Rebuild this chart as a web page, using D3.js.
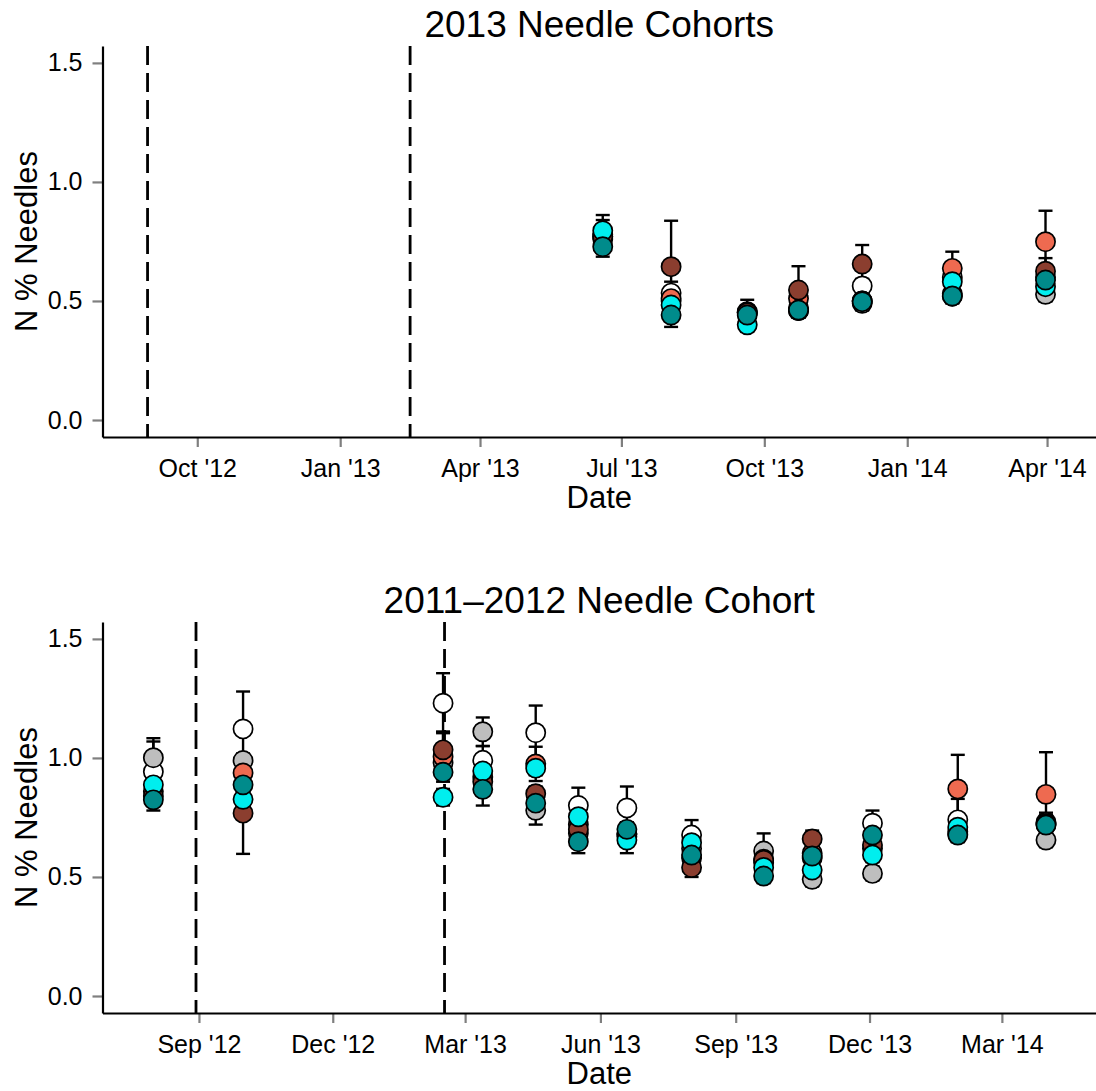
<!DOCTYPE html>
<html>
<head>
<meta charset="utf-8">
<script src="https://cdn.jsdelivr.net/npm/d3@7"></script>
<style>
body { margin: 0; background: #fff; }
svg text { font-family: "Liberation Sans", Arial, sans-serif; fill: #000; }
</style>
</head>
<body>
<div id="chart"></div>
<script>
// treatments, drawn in this order (later ones sit on top)
var treatments = ["T1", "T2", "T3", "T4", "T5", "T6"];
var fills = ["#ffffff", "#bebebe", "#ee6a50", "#8b3e2f", "#00eeee", "#008b8b"];

var yTicks = [0, 0.5, 1.0, 1.5];
var cutDates = ["2012-08-30", "2013-02-15"];

// ---- 2013 cohort ----
var topDates = ["2013-06-19", "2013-08-02", "2013-09-20", "2013-10-23", "2013-12-03", "2014-01-30", "2014-03-31"];
var topT1 = [0.78, 0.533, 0.455, 0.47, 0.563, 0.60, 0.60];
var topT2 = [0.76, 0.50, 0.45, 0.46, 0.49, 0.52, 0.528];
var topT3 = [0.77, 0.51, 0.45, 0.51, 0.50, 0.637, 0.749];
var topT4 = [0.77, 0.644, 0.45, 0.546, 0.655, 0.53, 0.625];
var topT5 = [0.795, 0.483, 0.40, 0.46, 0.50, 0.581, 0.56];
var topT6 = [0.728, 0.441, 0.441, 0.462, 0.497, 0.521, 0.588];
var topSe1 = [0.06, 0.048, 0.05, 0.03, 0.03, 0.03, 0.03];
var topSe2 = [0.03, 0.03, 0.03, 0.03, 0.03, 0.03, 0.03];
var topSe3 = [0.03, 0.03, 0.03, 0.03, 0.03, 0.07, 0.13];
var topSe4 = [0.03, 0.193, 0.03, 0.10, 0.08, 0.03, 0.055];
var topSe5 = [0.066, 0.03, 0.03, 0.03, 0.03, 0.03, 0.03];
var topSe6 = [0.042, 0.05, 0.03, 0.03, 0.03, 0.03, 0.03];
var topTickDates = ["2012-10-01", "2013-01-01", "2013-04-01", "2013-07-01", "2013-10-01", "2014-01-01", "2014-04-01"];
var topTickLabels = ["Oct '12", "Jan '13", "Apr '13", "Jul '13", "Oct '13", "Jan '14", "Apr '14"];

// ---- 2011-2012 cohort ----
var botDates = ["2012-08-01", "2012-10-01", "2013-02-14", "2013-03-13", "2013-04-18", "2013-05-17", "2013-06-19",
  "2013-08-02", "2013-09-20", "2013-10-23", "2013-12-03", "2014-01-30", "2014-03-31"];
var botT1 = [0.942, 1.122, 1.23, 0.99, 1.106, 0.80, 0.79, 0.676, 0.56, 0.58, 0.726, 0.74, 0.73];
var botT2 = [1.001, 0.989, 0.98, 1.11, 0.78, 0.684, 0.68, 0.62, 0.609, 0.49, 0.515, 0.68, 0.655];
var botT3 = [0.86, 0.937, 1.005, 0.92, 0.975, 0.72, 0.67, 0.58, 0.575, 0.60, 0.62, 0.87, 0.847];
var botT4 = [0.84, 0.768, 1.034, 0.90, 0.85, 0.70, 0.68, 0.54, 0.57, 0.66, 0.634, 0.69, 0.725];
var botT5 = [0.887, 0.826, 0.835, 0.945, 0.957, 0.753, 0.655, 0.644, 0.54, 0.529, 0.592, 0.709, 0.72];
var botT6 = [0.824, 0.887, 0.94, 0.868, 0.81, 0.648, 0.70, 0.592, 0.504, 0.588, 0.676, 0.676, 0.718];
var botSe1 = [0.127, 0.157, 0.126, 0.06, 0.114, 0.075, 0.09, 0.063, 0.03, 0.03, 0.053, 0.088, 0.03];
var botSe2 = [0.082, 0.03, 0.03, 0.06, 0.06, 0.03, 0.03, 0.03, 0.074, 0.03, 0.03, 0.03, 0.03];
var botSe3 = [0.03, 0.03, 0.105, 0.03, 0.072, 0.03, 0.03, 0.03, 0.03, 0.03, 0.03, 0.143, 0.177];
var botSe4 = [0.03, 0.171, 0.076, 0.03, 0.03, 0.03, 0.03, 0.04, 0.03, 0.035, 0.03, 0.03, 0.045];
var botSe5 = [0.03, 0.03, 0.035, 0.03, 0.03, 0.03, 0.055, 0.03, 0.03, 0.03, 0.03, 0.03, 0.03];
var botSe6 = [0.045, 0.03, 0.03, 0.068, 0.03, 0.048, 0.03, 0.03, 0.03, 0.03, 0.03, 0.03, 0.03];
var botTickDates = ["2012-09-01", "2012-12-01", "2013-03-01", "2013-06-01", "2013-09-01", "2013-12-01", "2014-03-01"];
var botTickLabels = ["Sep '12", "Dec '12", "Mar '13", "Jun '13", "Sep '13", "Dec '13", "Mar '14"];

var svgWidth = 1096;
var svgHeight = 1091;
var parse = d3.utcParse("%Y-%m-%d");

var svg = d3.select("#chart")
  .append("svg")
  .attr("width", svgWidth)
  .attr("height", svgHeight)
  .style("background", "#fff");

function drawPanel(p) {
  var left = 102.5, right = 1096;

  var x = d3.scaleUtc()
    .domain(p.xDomain)
    .range([left, right]);

  var y = d3.scaleLinear()
    .domain([-0.0714, 1.571])
    .range([p.bottom, p.top]);

  // build rows from the arrays
  var rows = [];
  p.means.forEach(function(m, k) {
    m.forEach(function(v, i) {
      rows.push({ date: parse(p.dates[i]), mean: v, se: p.ses[k][i], trt: k });
    });
  });

  var g = svg.append("g");

  // cut lines
  g.selectAll(".cut")
    .data(cutDates)
    .enter()
    .append("line")
    .attr("x1", d => x(parse(d)))
    .attr("x2", d => x(parse(d)))
    .attr("y1", p.top)
    .attr("y2", p.bottom)
    .attr("stroke", "#000")
    .attr("stroke-width", 2.8)
    .attr("stroke-dasharray", "19,8");

  // axes
  var xAxis = d3.axisBottom(x)
    .tickValues(p.tickDates.map(parse))
    .tickFormat((d, i) => p.tickLabels[i])
    .tickSizeOuter(0)
    .tickSizeInner(10)
    .tickPadding(12);
  var gx = g.append("g")
    .attr("transform", `translate(0, ${p.bottom})`)
    .call(xAxis);

  var yAxis = d3.axisLeft(y)
    .tickValues(yTicks)
    .tickFormat(d3.format(".1f"))
    .tickSizeOuter(0)
    .tickSizeInner(10)
    .tickPadding(10);
  var gy = g.append("g")
    .attr("transform", `translate(${left}, 0)`)
    .call(yAxis);

  [gx, gy].forEach(function(a) {
    a.select(".domain").attr("stroke", "#000").attr("stroke-width", 2.2);
    a.selectAll(".tick line").attr("stroke", "#7f7f7f").attr("stroke-width", 2.2);
    a.selectAll(".tick text").attr("font-size", 25).attr("fill", "#000");
    a.select(".domain").raise();
  });

  // error bars
  var eb = g.append("g").selectAll("g")
    .data(rows)
    .enter()
    .append("g")
    .attr("stroke", "#000")
    .attr("stroke-width", 2.4);
  eb.append("line")
    .attr("x1", d => x(d.date)).attr("x2", d => x(d.date))
    .attr("y1", d => y(d.mean - d.se)).attr("y2", d => y(d.mean + d.se));
  eb.append("line")
    .attr("x1", d => x(d.date) - 7).attr("x2", d => x(d.date) + 7)
    .attr("y1", d => y(d.mean + d.se)).attr("y2", d => y(d.mean + d.se));
  eb.append("line")
    .attr("x1", d => x(d.date) - 7).attr("x2", d => x(d.date) + 7)
    .attr("y1", d => y(d.mean - d.se)).attr("y2", d => y(d.mean - d.se));

  // points
  g.append("g").selectAll("circle")
    .data(rows)
    .enter()
    .append("circle")
    .attr("cx", d => x(d.date))
    .attr("cy", d => y(d.mean))
    .attr("r", 9.6)
    .attr("fill", d => fills[d.trt])
    .attr("stroke", "#000")
    .attr("stroke-width", 1.7);

  // labels
  g.append("text")
    .attr("x", (left + right) / 2)
    .attr("y", p.top - 9)
    .attr("text-anchor", "middle")
    .attr("font-size", 37)
    .text(p.title);

  g.append("text")
    .attr("x", (left + right) / 2)
    .attr("y", p.bottom + 71)
    .attr("text-anchor", "middle")
    .attr("font-size", 31)
    .text("Date");

  g.append("text")
    .attr("transform", `translate(37, ${(p.top + p.bottom) / 2}) rotate(-90)`)
    .attr("text-anchor", "middle")
    .attr("font-size", 31)
    .text("N % Needles");
}

drawPanel({
  title: "2013 Needle Cohorts",
  top: 46, bottom: 437,
  xDomain: [parse("2012-08-01"), new Date(Date.UTC(2014, 4, 2, 12))],
  dates: topDates,
  means: [topT1, topT2, topT3, topT4, topT5, topT6],
  ses: [topSe1, topSe2, topSe3, topSe4, topSe5, topSe6],
  tickDates: topTickDates,
  tickLabels: topTickLabels
});

drawPanel({
  title: "2011\u20132012 Needle Cohort",
  top: 622, bottom: 1013,
  xDomain: [new Date(Date.UTC(2012, 5, 27, 10)), parse("2014-05-04")],
  dates: botDates,
  means: [botT1, botT2, botT3, botT4, botT5, botT6],
  ses: [botSe1, botSe2, botSe3, botSe4, botSe5, botSe6],
  tickDates: botTickDates,
  tickLabels: botTickLabels
});
</script>
</body>
</html>
